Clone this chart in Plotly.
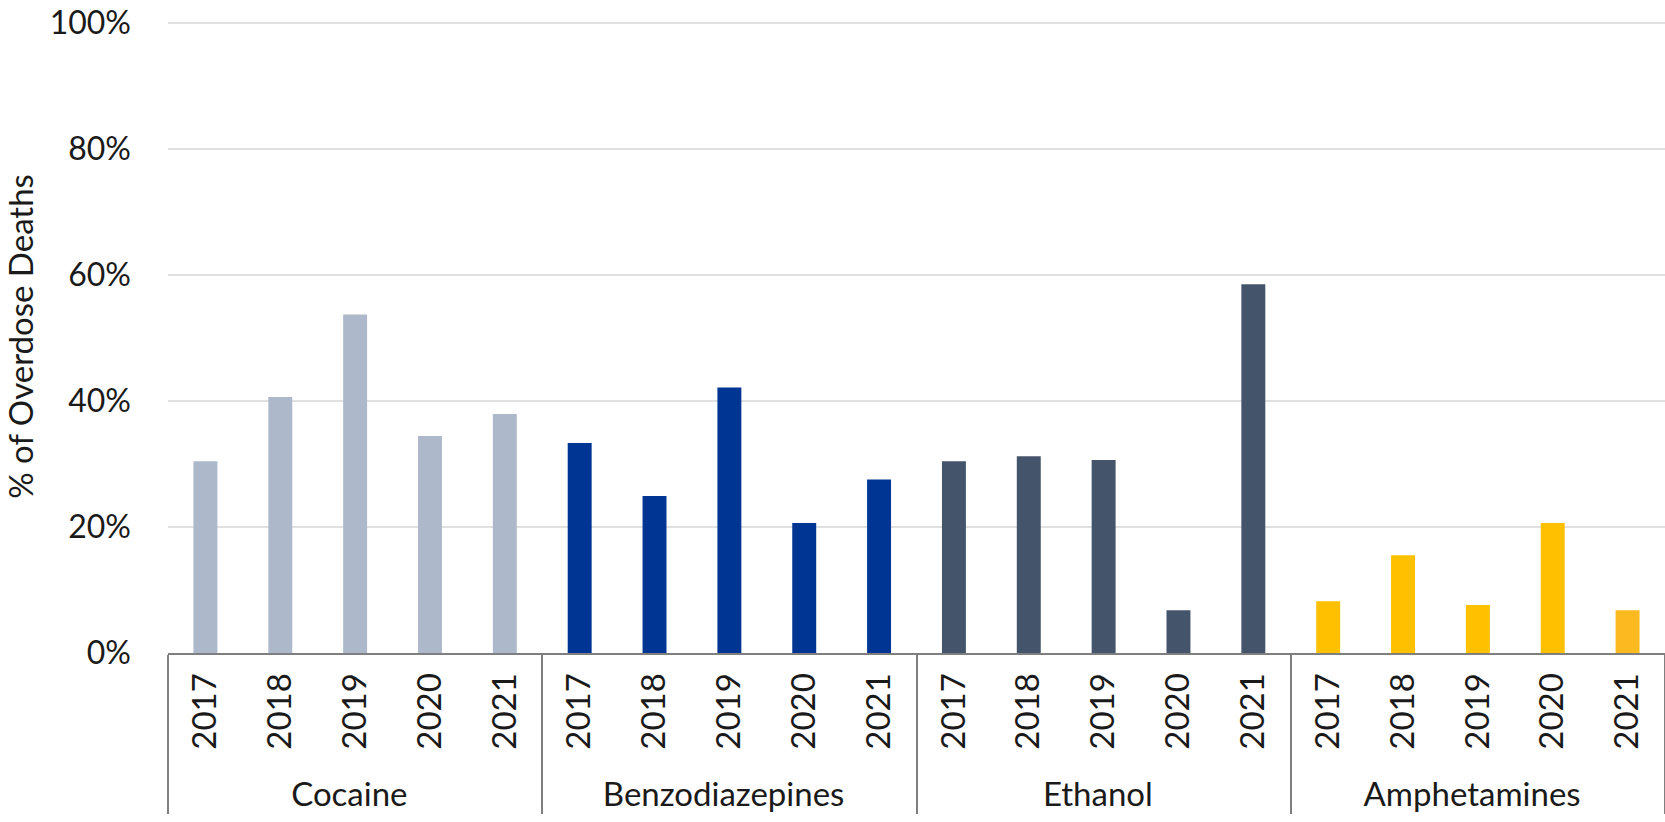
import plotly.graph_objects as go

groups = ["Cocaine", "Benzodiazepines", "Ethanol", "Amphetamines"]
years = ["2017", "2018", "2019", "2020", "2021"]
cocaine = [30.4, 40.6, 53.7, 34.4, 37.9]
benzodiazepines = [33.3, 24.9, 42.1, 20.6, 27.5]
ethanol = [30.4, 31.2, 30.6, 6.8, 58.5]
amphetamines = [8.2, 15.5, 7.6, 20.6, 6.8]
group_colors = ["#ADB9CA", "#003594", "#44546A", "#FFC000"]
amph_2021_color = "#FCB920"
y_ticks = [0, 20, 40, 60, 80, 100]

series = [cocaine, benzodiazepines, ethanol, amphetamines]

x_groups, x_years, y_vals, colors = [], [], [], []
for g, vals, c in zip(groups, series, group_colors):
    for yr, v in zip(years, vals):
        x_groups.append(g)
        x_years.append(yr)
        y_vals.append(v)
        colors.append(c)
colors[-1] = amph_2021_color

fig = go.Figure(go.Bar(x=[x_groups, x_years], y=y_vals, marker_color=colors,
                       marker_line_width=0))

fig.update_layout(
    width=1665, height=822,
    margin=dict(l=168, r=0, t=20, b=169, autoexpand=False),
    plot_bgcolor="white", paper_bgcolor="white",
    bargap=0.68,
    showlegend=False,
    font=dict(family="Lato", color="#1a1a1a"),
)
fig.update_xaxes(
    type="multicategory",
    tickangle=-90,
    tickfont=dict(family="Lato", size=33, color="#1a1a1a"),
    showline=True, linecolor="#7F7F7F", linewidth=2,
    showdividers=True, dividercolor="#7F7F7F", dividerwidth=1.5,
    ticks="",
    showgrid=False,
    ticklabelstandoff=5,
    ticklabeloverflow="allow",
)
fig.update_yaxes(
    range=[0, 100.4],
    tickvals=y_ticks,
    ticktext=[f"{t}%" for t in y_ticks],
    tickfont=dict(family="Lato", size=32, color="#1a1a1a"),
    showgrid=True, gridcolor="#E0E0E0", gridwidth=2,
    zeroline=False, showline=False,
    title=dict(text="% of Overdose Deaths", font=dict(family="Lato", size=33, color="#1a1a1a"), standoff=27),
    ticklabelstandoff=36,
    ticklabeloverflow="allow",
)

fig.write_html("out.html", config={"displayModeBar": False},
               post_script="document.body.style.margin='0';")
